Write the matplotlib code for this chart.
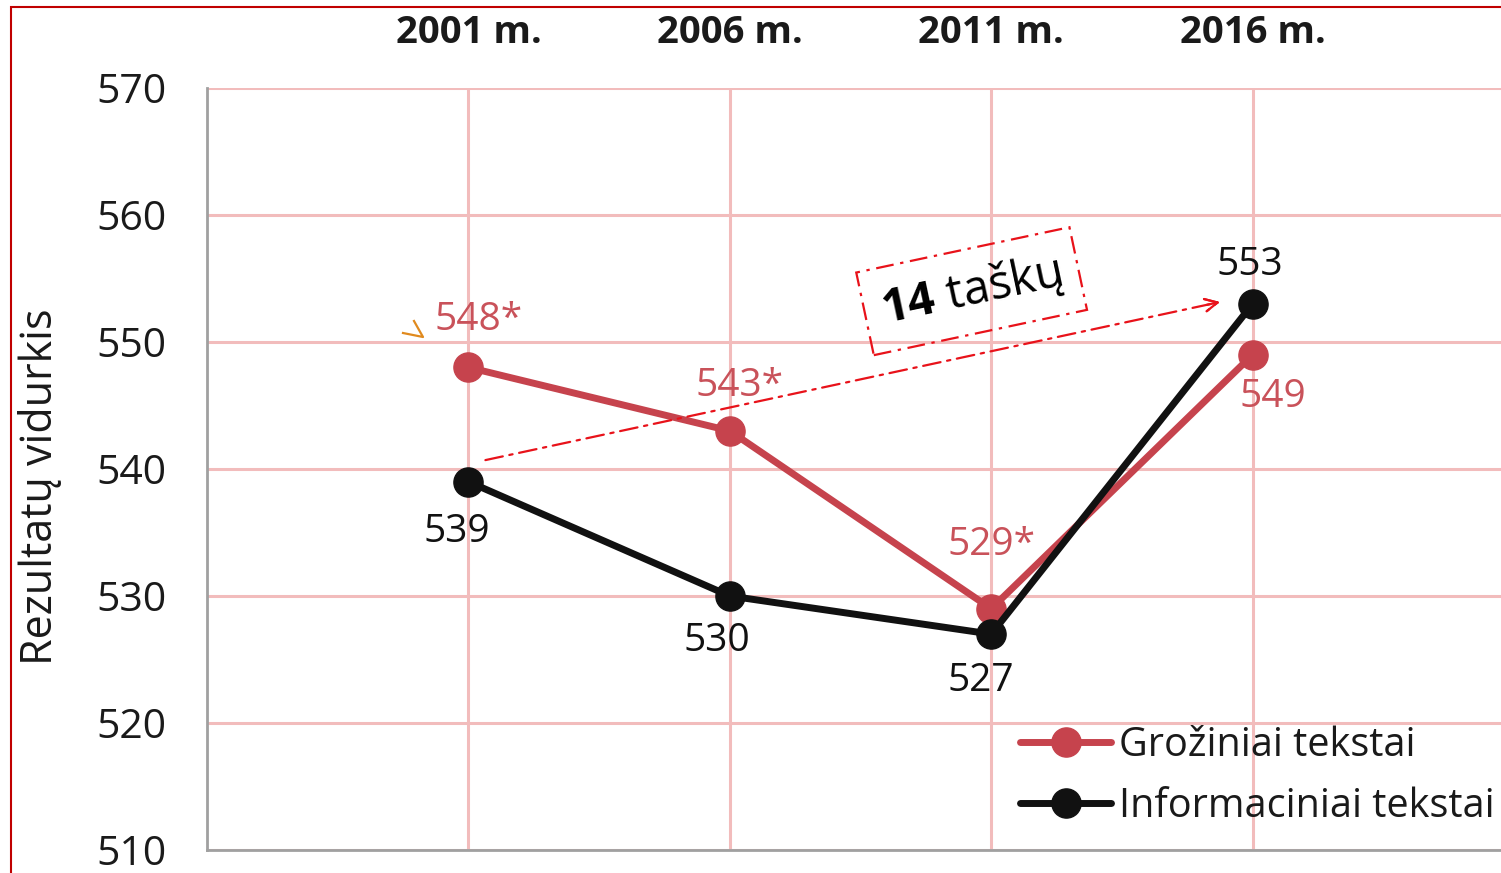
import matplotlib
matplotlib.use("Agg")
import matplotlib.pyplot as plt
from matplotlib.patches import Rectangle
from matplotlib.lines import Line2D

plt.rcParams['font.family'] = ['Open Sans', 'DejaVu Sans']
plt.rcParams['mathtext.fontset'] = 'custom'
plt.rcParams['mathtext.rm'] = 'Open Sans'
plt.rcParams['mathtext.bf'] = 'Open Sans:bold'

years = ["2001 m.", "2006 m.", "2011 m.", "2016 m."]
grozin = [548, 543, 529, 549]
inform = [539, 530, 527, 553]
grozin_labels = ["548*", "543*", "529*", "549"]
inform_labels = ["539", "530", "527", "553"]
yticks = [510, 520, 530, 540, 550, 560, 570]
series_names = ["Grožiniai tekstai", "Informaciniai tekstai"]
diff_text_num = "14"
diff_text_word = "taškų"

RED = "#c6434d"
RED_TXT = "#c9525a"
BLACK = "#111111"
GRID = "#f2bcbc"

W, H = 1501, 873
fig = plt.figure(figsize=(W / 100, H / 100), dpi=100)
ax = fig.add_axes([207 / W, 1 - 850 / H, 1 - 207 / W, (850 - 88) / H])

x = list(range(len(years)))
ax.set_xlim(-1, 3.95)
ax.set_ylim(510, 570)

ax.plot(x, grozin, color=RED, lw=5, marker='o', ms=21, label=series_names[0], zorder=4,
        solid_capstyle='round')
ax.plot(x, inform, color=BLACK, lw=5, marker='o', ms=21, label=series_names[1], zorder=5,
        solid_capstyle='round')

ax.set_xticks(x)
ax.set_xticklabels(years, fontsize=27.5, fontweight='bold', color='#1a1a1a')
ax.xaxis.tick_top()
ax.tick_params(axis='x', length=0, pad=26)
ax.set_yticks(yticks)
ax.set_yticklabels([str(v) for v in yticks], fontsize=29.5, color='#1a1a1a')
ax.tick_params(axis='y', length=0, pad=29)

ax.grid(True, color=GRID, lw=2.2, zorder=0)
ax.set_axisbelow(True)
for s in ['top', 'right']:
    ax.spines[s].set_visible(False)
for s in ['left', 'bottom']:
    ax.spines[s].set_color('#a0a0a0')
    ax.spines[s].set_linewidth(2)

ax.set_ylabel("Rezultatų vidurkis", fontsize=31, color='#1a1a1a')
ax.yaxis.set_label_coords(-(207 - 62) / (W - 207), (850 - 487) / (850 - 88))

# value labels (offsets in pixels)
g_off = [(10, 47), (10, 45), (0, 64), (20, -42)]
i_off = [(-12, -50), (-13, -45), (-10, -47), (-3, 39)]
for xi, v, lab, off in zip(x, grozin, grozin_labels, g_off):
    ax.annotate(lab, (xi, v), xytext=(off[0] * 0.72, off[1] * 0.72), textcoords='offset points',
                ha='center', va='center', fontsize=28, color=RED_TXT, zorder=6)
for xi, v, lab, off in zip(x, inform, inform_labels, i_off):
    ax.annotate(lab, (xi, v), xytext=(off[0] * 0.72, off[1] * 0.72), textcoords='offset points',
                ha='center', va='center', fontsize=28, color=BLACK, zorder=6)

# small orange stray mark near 548*
fig.add_artist(Line2D([403 / W, 423 / W, 414 / W], [1 - 333 / H, 1 - 337 / H, 1 - 321 / H],
                      transform=fig.transFigure, color='#e08a1e', lw=1.6))

# difference arrow
start = (0.065, 540.7)
end = (2.875, 553.15)
ax.annotate('', xy=end, xytext=start,
            arrowprops=dict(arrowstyle='->,head_length=0.9,head_width=0.45', color='#e8121a',
                            lw=1.6, linestyle=(0, (8, 3, 1.5, 3)), shrinkA=0, shrinkB=0),
            zorder=7)
# solid arrow head overlay
ax.annotate('', xy=end, xytext=(end[0] - 0.05, end[1] - 0.05 * (end[1] - start[1]) / (end[0] - start[0])),
            arrowprops=dict(arrowstyle='->,head_length=0.9,head_width=0.45', color='#e8121a',
                            lw=1.6, shrinkA=0, shrinkB=0), zorder=7)

ax.text(1.925, 554.0, r"$\mathbf{" + diff_text_num + r"}$ " + diff_text_word,
        fontsize=34, rotation=12, ha='center', va='center', rotation_mode='anchor',
        color='black', zorder=8,
        bbox=dict(boxstyle='square,pad=0.36', fc='none', ec='#e8121a', lw=1.6,
                  linestyle=(0, (8, 3, 1.5, 3))))

leg = ax.legend(loc='upper left', bbox_to_anchor=((1020 - 207) / (W - 207), (850 - 725) / (850 - 88)),
                frameon=False, fontsize=28.5, handlelength=2.3, handletextpad=0.2,
                labelspacing=0.52, borderaxespad=0, borderpad=0)
for t in leg.get_texts():
    t.set_color('#1a1a1a')

# figure red border
fig.patches.append(Rectangle((11 / W, -0.1), 1.2, 1 - 7 / H + 0.1, transform=fig.transFigure,
                             fill=False, ec='#c00000', lw=1.5, clip_on=False))

fig.savefig("out.png", dpi=100)
